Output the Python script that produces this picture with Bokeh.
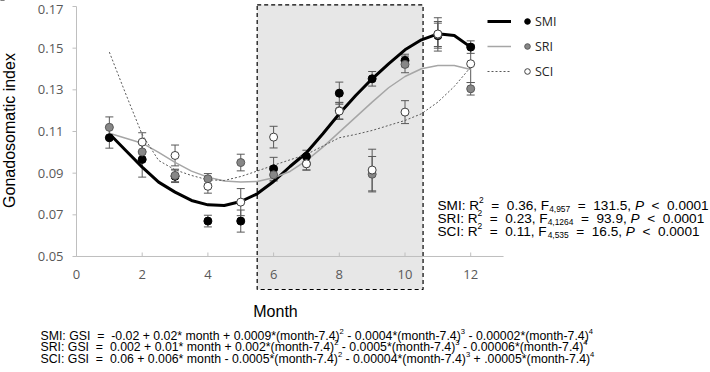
import re
import math
from bokeh.plotting import figure
from bokeh.models import (ColumnDataSource, Whisker, TeeHead, BoxAnnotation, Label,
                          Legend, LegendItem, Range1d)
from bokeh.core.properties import value
from bokeh.embed import file_html
from bokeh.resources import INLINE

nan = float("nan")

# ---------------- data ----------------
months = [1, 2, 3, 4, 5, 6, 7, 8, 9, 10, 11, 12]
smi = [0.107, 0.0966, 0.0885, 0.067, 0.067, 0.0921, 0.098, 0.1284, 0.1353, 0.1441, 0.156, 0.1505]
smi_err = [0.005, 0.0085, 0.003, 0.0028, 0.0053, 0.0055, 0.003, 0.0053, 0.0035, 0.003, 0.006, 0.003]
sri = [0.112, 0.1002, 0.0889, 0.0873, 0.0951, 0.0892, 0.0945, 0.120, 0.0895, 0.1422, 0.1566, 0.1305]
sri_err = [0.005, 0.004, 0.003, 0.0025, 0.004, 0.003, 0.003, 0.004, 0.0085, 0.004, 0.008, 0.003]
sci = [nan, 0.1049, 0.0985, 0.0837, 0.0761, 0.1073, 0.0945, 0.1198, 0.0915, 0.1193, 0.1568, 0.1425]
sci_err = [nan, 0.0045, 0.005, 0.0033, 0.0065, 0.0052, 0.003, 0.004, 0.0100, 0.0055, 0.006, 0.009]

fit_month = [1, 1.5, 2, 2.5, 3, 3.5, 4, 4.5, 5, 5.5, 6, 6.5, 7, 7.5, 8, 8.5, 9, 9.5, 10, 10.5, 11, 11.5, 12]
smi_fit = [0.1089, 0.1009, 0.0929, 0.0857, 0.0809, 0.0769, 0.0748, 0.0745, 0.0764, 0.0801, 0.0860,
           0.0932, 0.0998, 0.1089, 0.1185, 0.1273, 0.1353, 0.1425, 0.1492, 0.1540, 0.1569, 0.1561, 0.1505]
sri_fit = [0.1092, 0.1068, 0.1044, 0.1000, 0.0952, 0.0910, 0.0881, 0.0862, 0.0857, 0.0860, 0.0878,
           0.0908, 0.0960, 0.1025, 0.1097, 0.1169, 0.1241, 0.1310, 0.1364, 0.1401, 0.1417, 0.1417, 0.1398]
sci_fit = [0.1481, 0.1280, 0.1085, 0.0961, 0.0916, 0.0889, 0.0868, 0.0865, 0.0884, 0.0910, 0.0938,
           0.0964, 0.0990, 0.1030, 0.1070, 0.1086, 0.1105, 0.1129, 0.1153, 0.1185, 0.1241, 0.1316, 0.1409]

x_ticks = [0, 2, 4, 6, 8, 10, 12]
x_tick_labels = ["0", "2", "4", "6", "8", "10", "12"]
y_ticks = [0.05, 0.07, 0.09, 0.11, 0.13, 0.15, 0.17]
y_tick_labels = ["0.05", "0.07", "0.09", "0.11", "0.13", "0.15", "0.17"]
x_axis_end = 13
shade_start, shade_end = 5.5, 10.55

series_names = ["SMI", "SRI", "SCI"]
r2_vals = ["0.36", "0.23", "0.11"]
f_df = ["4,957", "4,1264", "4,535"]
f_vals = ["131.5", "93.9", "16.5"]
p_text = "0.0001"
eq_parts = [
    ["SMI: GSI  =  -0.02 + 0.02* month + 0.0009*(month-7.4)", "2", " - 0.0004*(month-7.4)", "3",
     " - 0.00002*(month-7.4)", "4"],
    ["SRI: GSI  =  0.002 + 0.01* month + 0.002*(month-7.4)", "2", " - 0.0005*(month-7.4)", "3",
     " - 0.00006*(month-7.4)", "4"],
    ["SCI: GSI  =  0.06 + 0.006* month - 0.0005*(month-7.4)", "2", " - 0.00004*(month-7.4)", "3",
     " + .00005*(month-7.4)", "4"],
]

# ---------------- layout helpers (canvas px -> data) ----------------
W, H = 710, 372
X0, XS = 76.0, 32.85          # x=0 at px 76, px per month
Y17, YS = 6.0, 2083.3         # y=0.17 at px 6, px per unit


def px_x(px):
    return (px - X0) / XS


def px_y(py):
    return 0.17 - (py - Y17) / YS


AW = {' ': 278, ',': 278, '.': 278, ':': 278, '=': 584, '<': 584, '+': 584, '-': 333, '*': 389,
      '(': 333, ')': 333, 'S': 667, 'M': 833, 'I': 278, 'R': 722, 'G': 778, 'F': 611, 'P': 667,
      'C': 722, 'm': 833, 'o': 556, 'n': 556, 't': 278, 'h': 556}


def adv(s, fs):
    return sum(AW.get(ch, 556) for ch in s) * fs / 1000.0


def put_rich(p, page_x, page_yc, parts, fs, font="Liberation Sans"):
    x = page_x
    base = page_yc + 0.358 * fs
    for txt, kind in parts:
        size, yb, style = fs, base, "normal"
        if kind == "sup":
            size, yb = fs * 0.62, base - fs * 0.38
        elif kind == "sub":
            size, yb = fs * 0.62, base + fs * 0.24
        elif kind == "it":
            style = "italic"
        for mt in re.finditer(r"\S+(?: \S+)*", txt):
            sx = x + adv(txt[:mt.start()], size)
            p.add_layout(Label(x=px_x(sx), y=px_y(yb), text=mt.group(), text_font=font,
                               text_font_size=f"{size:.2f}px", text_font_style=style,
                               text_baseline="alphabetic", text_align="left", text_color="#000000"))
        x += adv(txt, size)


# ---------------- figure (frame = whole canvas) ----------------
p = figure(width=W, height=H, x_range=Range1d(px_x(0), px_x(W)), y_range=Range1d(px_y(H), px_y(0)),
           output_backend="svg", toolbar_location=None, x_axis_location=None, y_axis_location=None,
           min_border_left=0, min_border_right=0, min_border_top=0, min_border_bottom=0)
p.outline_line_color = None
p.grid.visible = False
p.background_fill_color = "white"
p.border_fill_color = "white"

box = BoxAnnotation(left=shade_start, right=shade_end, bottom=px_y(289), top=px_y(4.3),
                    fill_color="#E7E7E7", fill_alpha=1.0, line_color="#000000", line_alpha=1.0,
                    line_dash="4 3", line_width=1.2, level="underlay")
p.add_layout(box)

# ---- axes (drawn through the data scales) ----
axis_col = "#BFBFBF"
p.segment(x0=[0, 0], y0=[y_ticks[0], y_ticks[0]], x1=[x_axis_end, 0], y1=[y_ticks[0], y_ticks[-1]],
          line_color=axis_col, line_width=1)
p.ray(x=[0] * len(y_ticks), y=y_ticks, length=4, length_units="screen", angle=math.pi,
      line_color=axis_col, line_width=1)
p.ray(x=x_ticks, y=[y_ticks[0]] * len(x_ticks), length=4, length_units="screen", angle=math.pi / 2,
      line_color=axis_col, line_width=1)
# keep the top tick label fully on the canvas
y_lab_offsets = [0] * (len(y_ticks) - 1) + [3]
p.text(x=[0] * len(y_ticks), y=y_ticks, text=y_tick_labels, x_offset=-13, y_offset=y_lab_offsets,
       text_align="right", text_baseline="middle", text_font=value("Open Sans"),
       text_font_size="13px", text_color="#595959")
p.text(x=x_ticks, y=[y_ticks[0]] * len(x_ticks), text=x_tick_labels, y_offset=18, text_align="center",
       text_baseline="middle", text_font=value("Open Sans"), text_font_size="13px", text_color="#595959")
p.text(x=[px_x(275)], y=[px_y(310.5)], text=["Month"], text_align="center", text_baseline="middle",
       text_font=value("Liberation Sans"), text_font_size="16px", text_color="#000000")
p.text(x=[px_x(9)], y=[px_y(130)], text=["Gonadosomatic index"], angle=math.pi / 2, text_align="center",
       text_baseline="middle", text_font=value("Liberation Sans"), text_font_size="16px",
       text_color="#000000")


def make_src(vals, errs):
    up = [v + e for v, e in zip(vals, errs)]
    lo = [v - e for v, e in zip(vals, errs)]
    return ColumnDataSource(dict(m=months, v=vals, up=up, lo=lo))


srcs = [make_src(smi, smi_err), make_src(sri, sri_err), make_src(sci, sci_err)]
for s in srcs:
    w = Whisker(source=s, base="m", upper="up", lower="lo", line_color="#595959", line_width=1,
                upper_head=TeeHead(size=8, line_color="#595959", line_width=1),
                lower_head=TeeHead(size=8, line_color="#595959", line_width=1), level="underlay")
    p.add_layout(w)

l_smi = p.line(fit_month, smi_fit, line_color="#000000", line_width=3)
l_sri = p.line(fit_month, sri_fit, line_color="#A6A6A6", line_width=1.5)
l_sci = p.line(fit_month, sci_fit, line_color="#595959", line_width=1, line_dash="2 2")

c_smi = p.scatter("m", "v", source=srcs[0], marker="circle", size=8, fill_color="#000000",
                  line_color="#000000")
c_sri = p.scatter("m", "v", source=srcs[1], marker="circle", size=8, fill_color="#878787",
                  line_color="#595959")
c_sci = p.scatter("m", "v", source=srcs[2], marker="circle", size=8, fill_color="#FFFFFF",
                  line_color="#404040")

# legends: lines, then markers + labels
leg_lines = Legend(items=[LegendItem(label=" ", renderers=[r]) for r in (l_smi, l_sri, l_sci)],
                   location=(487, 291), orientation="vertical", glyph_width=24, glyph_height=20,
                   label_height=20, label_width=0, label_standoff=0, spacing=5, padding=0, margin=0,
                   border_line_color=None, background_fill_alpha=0, label_text_font_size="1px")
leg_pts = Legend(items=[LegendItem(label=n, renderers=[r]) for n, r in zip(series_names, (c_smi, c_sri, c_sci))],
                 location=(520, 291), orientation="vertical", glyph_width=14, glyph_height=20,
                 label_height=20, label_width=20, label_standoff=1, spacing=5, padding=0, margin=0,
                 border_line_color=None, background_fill_alpha=0, label_text_font="Open Sans",
                 label_text_font_size="12.5px", label_text_color="#262626")
p.add_layout(leg_lines)
p.add_layout(leg_pts)

# statistics text
for i, name in enumerate(series_names):
    parts = [(f"{name}: R", "n"), ("2", "sup"), (f"  =  {r2_vals[i]}, F", "n"), (f_df[i], "sub"),
             (f"  =  {f_vals[i]}, ", "n"), ("P", "it"), (f"  <  {p_text}", "n")]
    put_rich(p, 437, 200 + 13 * i, parts, 13.6)

# equations
for i, eq in enumerate(eq_parts):
    parts = [(eq[0], "n"), (eq[1], "sup"), (eq[2], "n"), (eq[3], "sup"), (eq[4], "n"), (eq[5], "sup")]
    put_rich(p, 40, 331 + 11.5 * i, parts, 12.3)

open("out.html", "w").write(file_html(p, INLINE))
